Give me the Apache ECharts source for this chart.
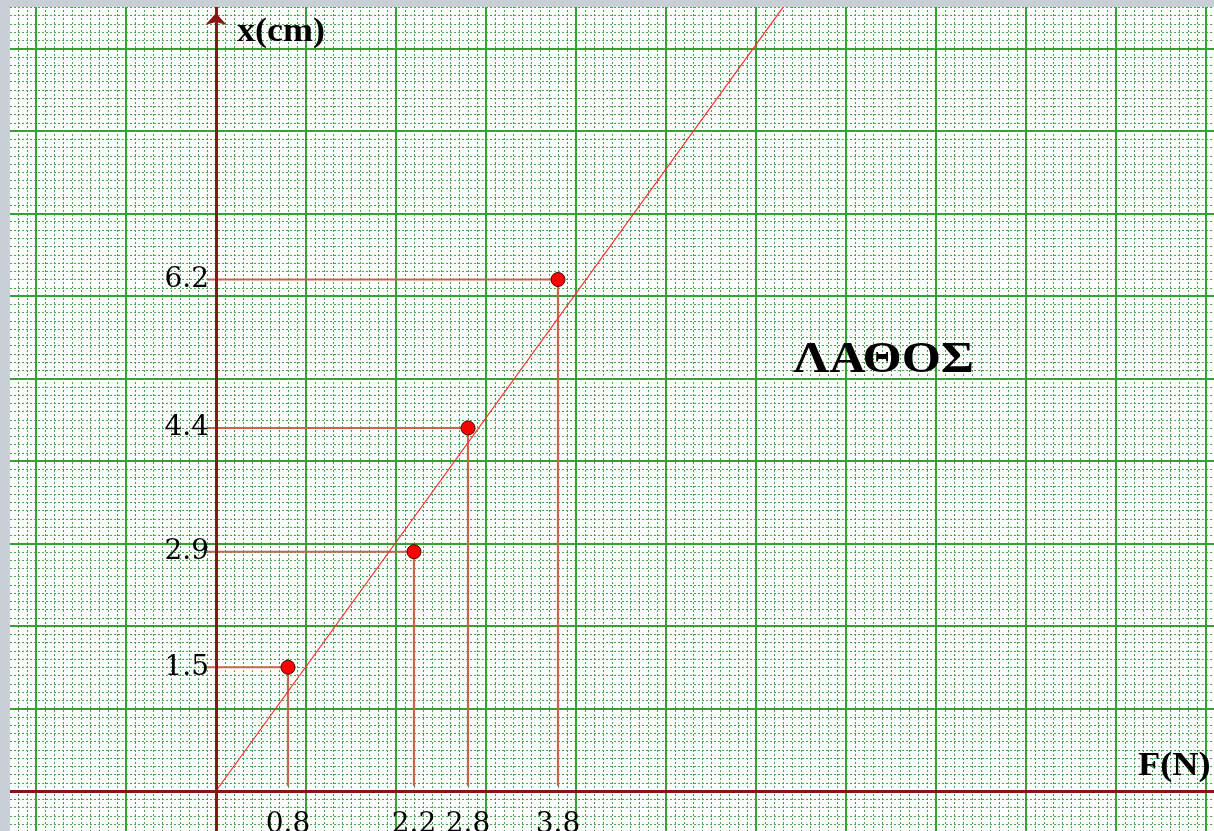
<!DOCTYPE html>
<html>
<head>
<meta charset="utf-8">
<title>x(cm) – F(N)</title>
<script src="https://cdn.jsdelivr.net/npm/echarts@6/dist/echarts.min.js"></script>
<style>
  html, body { margin: 0; padding: 0; background: #c8d0d6; }
  #chart { width: 1214px; height: 831px; }
</style>
</head>
<body>
<div id="chart"></div>
<script>
// Measured points: applied force F (N) and spring extension x (cm)
const forceN = [0.8, 2.2, 2.8, 3.8];
const extensionCm = [1.5, 2.9, 4.4, 6.2];
// Straight line drawn through the origin
const fitLine = [[0, 0], [6.4, 9.65]];
// Values written along the axes
const xTickValues = [0.8, 2.2, 2.8, 3.8];
const yTickValues = [1.5, 2.9, 4.4, 6.2];
const xAxisTitle = 'F(N)';
const yAxisTitle = 'x(cm)';
const verdict = 'ΛΑΘΟΣ';

// Page geometry: graph paper, origin and scale of one square
const W = 1214, H = 831;
const PAPER_LEFT = 10, PAPER_TOP = 7;
const ORIGIN_X = 216, ORIGIN_Y = 791;
const PX_PER_N = 90, PX_PER_CM = 82.5;
const PAPER_X = [-3, 12], PAPER_Y = [-1, 10];

const AXIS_RED = '#8b1515';
const GUIDE = '#c4654c';
const MAJOR_GREEN = '#35a035';
const MINOR_GREEN = '#3faa3f';
const SERIF = '"DejaVu Serif", "Liberation Serif", serif';
const TIMES = '"Liberation Serif", "Times New Roman", serif';

const chart = echarts.init(document.getElementById('chart'), null, { renderer: 'canvas' });

const hidden = { show: false };
const tickFont = {
  fontFamily: SERIF, fontSize: 28, fontWeight: 'normal', color: '#000',
  textBorderWidth: 0, opacity: 1
};

// guide lines from the x axis up to each point and across to the x(cm) axis
const guideStart = -0.1, guideFloor = 0.06;
const guideSeries = forceN.map((f, i) => ({
  type: 'line',
  xAxisIndex: 1, yAxisIndex: 1,
  data: [[guideStart, extensionCm[i]], [f, extensionCm[i]], [f, guideFloor]],
  symbol: 'none',
  silent: true,
  lineStyle: { color: GUIDE, width: 2.2 },
  z: 3
}));

// numbers written next to the axes, placed through the axis scales
const tickLabelSeries = [
  {
    type: 'scatter', xAxisIndex: 1, yAxisIndex: 1, silent: true,
    symbolSize: 0, z: 7,
    data: yTickValues.map(v => [0, v]),
    label: { show: true, position: 'left', distance: 7, ...tickFont,
             formatter: p => p.value[1].toFixed(1) }
  },
  {
    type: 'scatter', xAxisIndex: 1, yAxisIndex: 1, silent: true,
    symbolSize: 0, z: 7,
    data: xTickValues.map(v => [v, 0]),
    label: { show: true, position: 'bottom', distance: 20, ...tickFont,
             formatter: p => p.value[0].toFixed(1) }
  }
];

const paperAxis = (range) => ({
  type: 'value', min: range[0], max: range[1], interval: 1,
  axisLine: hidden, axisTick: hidden, axisLabel: hidden,
  splitLine: { show: true, lineStyle: { color: MAJOR_GREEN, width: 2 } },
  minorTick: { show: false, splitNumber: 10 },
  minorSplitLine: { show: true, lineStyle: { color: MINOR_GREEN, width: 1, type: [2, 2] } },
  z: 0
});

const option = {
  backgroundColor: '#ffffff',
  animation: false,
  grid: [
    { // graph paper squares
      left: ORIGIN_X + PAPER_X[0] * PX_PER_N,
      top: ORIGIN_Y - PAPER_Y[1] * PX_PER_CM,
      width: (PAPER_X[1] - PAPER_X[0]) * PX_PER_N,
      height: (PAPER_Y[1] - PAPER_Y[0]) * PX_PER_CM,
      outerBoundsMode: 'none',
      containLabel: false
    },
    { // plotting area
      left: PAPER_LEFT, top: PAPER_TOP, right: 0, bottom: 0,
      outerBoundsMode: 'none',
      containLabel: false
    }
  ],
  xAxis: [
    { gridIndex: 0, ...paperAxis(PAPER_X) },
    {
      gridIndex: 1, type: 'value',
      min: (PAPER_LEFT - ORIGIN_X) / PX_PER_N,
      max: (W - ORIGIN_X) / PX_PER_N,
      splitLine: hidden, axisTick: hidden, axisLabel: hidden,
      axisLine: { show: true, onZero: true, lineStyle: { color: AXIS_RED, width: 3 } },
      z: 5
    }
  ],
  yAxis: [
    { gridIndex: 0, ...paperAxis(PAPER_Y) },
    {
      gridIndex: 1, type: 'value',
      min: -(H - ORIGIN_Y) / PX_PER_CM,
      max: (ORIGIN_Y - PAPER_TOP) / PX_PER_CM,
      splitLine: hidden, axisTick: hidden, axisLabel: hidden,
      axisLine: {
        show: true, onZero: true,
        symbol: ['none', 'arrow'], symbolSize: [16, 12], symbolOffset: [0, -6],
        lineStyle: { color: AXIS_RED, width: 3 }
      },
      z: 5
    }
  ],
  series: [
    ...guideSeries,
    {
      type: 'line',
      xAxisIndex: 1, yAxisIndex: 1,
      data: fitLine,
      symbol: 'none',
      silent: true,
      lineStyle: { color: '#ff2a2a', width: 1.2 },
      z: 4
    },
    {
      type: 'scatter',
      xAxisIndex: 1, yAxisIndex: 1,
      data: forceN.map((f, i) => [f, extensionCm[i]]),
      symbol: 'circle',
      symbolSize: 14,
      itemStyle: { color: '#ff0000', borderColor: '#4a0000', borderWidth: 1, opacity: 1 },
      z: 6
    },
    ...tickLabelSeries
  ],
  graphic: [
    { type: 'rect', shape: { x: 0, y: 0, width: PAPER_LEFT, height: H }, style: { fill: '#c8d0d6' }, z: 100, silent: true },
    { type: 'rect', shape: { x: 0, y: 0, width: W, height: PAPER_TOP }, style: { fill: '#c8d0d6' }, z: 100, silent: true },
    {
      type: 'text', x: 237, y: 32, scaleX: 1.06, z: 60,
      style: { text: yAxisTitle, font: 'bold 34px ' + TIMES, fill: '#000', align: 'left', verticalAlign: 'middle' }
    },
    {
      type: 'text', x: 1138, y: 766, scaleX: 1.1, z: 60,
      style: { text: xAxisTitle, font: 'bold 33px ' + TIMES, fill: '#000', align: 'left', verticalAlign: 'middle' }
    },
    {
      type: 'text', x: 793, y: 360, scaleX: 1.12, z: 60,
      style: { text: verdict, font: 'bold 45px ' + TIMES, fill: '#000', align: 'left', verticalAlign: 'middle' }
    }
  ]
};

chart.setOption(option);
</script>
</body>
</html>
